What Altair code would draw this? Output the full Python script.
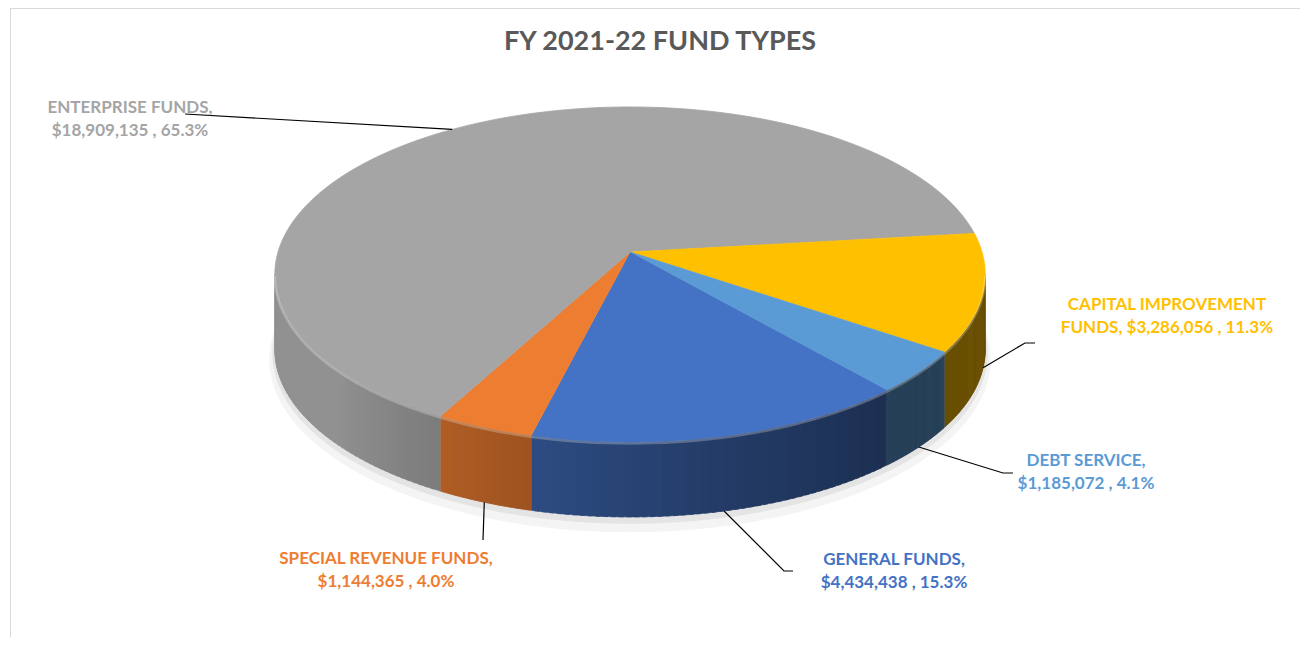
import math
import altair as alt
import pandas as pd

# ---------------- data ----------------
title_text = "FY 2021-22 FUND TYPES"
funds = ["GENERAL FUNDS", "SPECIAL REVENUE FUNDS", "ENTERPRISE FUNDS",
         "CAPITAL IMPROVEMENT FUNDS", "DEBT SERVICE"]
amounts = [4434438, 1144365, 18909135, 3286056, 1185072]
label_heads = ["GENERAL FUNDS,", "SPECIAL REVENUE FUNDS,", "ENTERPRISE FUNDS,",
               "CAPITAL IMPROVEMENT", "DEBT SERVICE,"]
label_prefix = ["", "", "", "FUNDS, ", ""]

# ---------------- style / layout ----------------
colors = ["#4472C4", "#ED7D31", "#A5A5A5", "#FFC000", "#5B9BD5"]
label_cx = [894, 386, 130, 1167, 1086]
label_cy = [571, 570, 119, 316, 472]
elbow_x = [784, 483, 185, 1025, 1003]
elbow_y = [571, 540, 114, 343, 473]
tail_x = [793, 483, 185, 1035, 1013]
tail_y = [571, 540, 114, 343, 473]

W, H = 1292, 629
START = math.radians(139)
CX, AY = 630, 252          # apex of the pie on screen
A, B, K = 352, 164.5, 0.134  # rim radii and perspective factor
DEPTH = 75
T1 = math.acos(-K)
T2 = 2 * math.pi - T1
N = 100
M = 50
FONT = "Lato"

df = pd.DataFrame({
    "fund": funds, "amount": amounts, "order": list(range(len(funds))),
    "head": label_heads, "prefix": label_prefix, "col": colors,
    "r": [int(c[1:3], 16) for c in colors],
    "g": [int(c[3:5], 16) for c in colors],
    "b": [int(c[5:7], 16) for c in colors],
    "lx": label_cx, "ly": label_cy,
    "ex": elbow_x, "ey": elbow_y, "tx": tail_x, "ty": tail_y,
})

xs = alt.Scale(domain=[8, 8 + W], nice=False, zero=False)
ys = alt.Scale(domain=[8, 8 + H], nice=False, zero=False, reverse=True)


def X(f):
    return alt.X(f"{f}:Q", scale=xs, axis=None)


def Y(f):
    return alt.Y(f"{f}:Q", scale=ys, axis=None)


def px(t, grow=0):
    return f"{CX} + {A + grow}*sin({t})/(1 + {K}*cos({t}))"


def py(t, grow=0, drop="0"):
    return f"{AY} - {B + grow}*cos({t})/(1 + {K}*cos({t})) + {drop}"


base = alt.Chart(df).transform_joinaggregate(
    total="sum(amount)"
).transform_window(
    cum="sum(amount)", sort=[alt.SortField("order", order="ascending")], frame=[None, 0]
).transform_calculate(
    a0=f"{START} + 2*PI*(datum.cum - datum.amount)/datum.total",
    a1=f"{START} + 2*PI*datum.cum/datum.total",
    pct="datum.amount/datum.total",
)

# shadow under the pie
seq_src = alt.Chart(alt.sequence(0, 121, as_="k"))


def shadow(off, grow, color):
    return seq_src.transform_calculate(
        t="2*PI*datum.k/120",
    ).transform_calculate(
        px=px("datum.t", grow),
        py=py("datum.t", grow, str(DEPTH + off)),
    ).mark_line(fill=color, stroke=color, strokeWidth=1).encode(
        x=X("px"), y=Y("py"), order=alt.Order("k:Q")
    )


shadow1 = shadow(9, 5, "#f4f4f4")
shadow2 = shadow(4, 2, "#e4e4e4")

# side walls (visible front part only)
walls = base.transform_calculate(
    b0="datum.a0 >= 2*PI ? datum.a0 - 2*PI : datum.a0",
    b1="datum.a0 >= 2*PI ? datum.a1 - 2*PI : datum.a1",
).transform_calculate(
    lo=f"max(datum.b0, {T1})",
    hi=f"min(datum.b1, {T2})",
).transform_filter("datum.hi > datum.lo").transform_calculate(
    i=f"sequence(0, {M})"
).transform_flatten(["i"]).transform_calculate(
    c="sequence(0, 4)"
).transform_flatten(["c"]).transform_calculate(
    ta=f"datum.lo + (datum.hi - datum.lo)*datum.i/{M}",
    tb=f"min(datum.hi, datum.lo + (datum.hi - datum.lo)*(datum.i + 1.6)/{M})",
).transform_calculate(
    t="(datum.c == 0 || datum.c == 3) ? datum.ta : datum.tb",
    tm="(datum.ta + datum.tb)/2",
    bot="datum.c >= 2 ? 1 : 0",
    qid="datum.fund + '_' + datum.i",
).transform_calculate(
    px=px("datum.t"),
    py=py("datum.t", 0, f"datum.bot*{DEPTH}"),
    f="0.41 + 0.47*pow(clamp((datum.tm*180/PI - 135)/95, 0, 1), 1.3)",
).transform_calculate(
    shade="'rgb(' + round(datum.r*datum.f) + ',' + round(datum.g*datum.f) + ',' + round(datum.b*datum.f) + ')'"
).mark_line(strokeWidth=0.6).encode(
    x=X("px"), y=Y("py"), order=alt.Order("c:Q"), detail="qid:N",
    fill=alt.Fill("shade:N", scale=None), stroke=alt.Stroke("shade:N", scale=None),
)

# top faces
tops = base.transform_calculate(
    k=f"sequence(-1, {N + 1})"
).transform_flatten(["k"]).transform_calculate(
    t=f"datum.a0 + (datum.a1 - datum.a0)*datum.k/{N}",
).transform_calculate(
    px=f"datum.k < 0 ? {CX} : " + px("datum.t"),
    py=f"datum.k < 0 ? {AY} : " + py("datum.t"),
).mark_line(strokeWidth=0.8).encode(
    x=X("px"), y=Y("py"), order=alt.Order("k:Q"), detail="fund:N",
    fill=alt.Fill("col:N", scale=None), stroke=alt.Stroke("col:N", scale=None),
)

# soft highlight on the front rim
rim = seq_src.transform_filter("datum.k <= 100").transform_calculate(
    t=f"{T1} + ({T2} - {T1})*datum.k/100",
).transform_calculate(
    px=px("datum.t"),
    py=py("datum.t", 0, "1.5"),
).mark_line(stroke="white", strokeOpacity=0.25, strokeWidth=2.5).encode(
    x=X("px"), y=Y("py"), order=alt.Order("k:Q")
)

# leader lines
leaders = base.transform_calculate(
    mid="(datum.a0 + datum.a1)/2",
).transform_calculate(
    rx0=px("datum.mid"),
    ry0=py("datum.mid", 0, f"(cos(datum.mid) < 0 ? {DEPTH} : 0)"),
    k="sequence(0, 3)",
).transform_flatten(["k"]).transform_calculate(
    qx="datum.k == 0 ? datum.rx0 : (datum.k == 1 ? datum.ex : datum.tx)",
    qy="datum.k == 0 ? datum.ry0 : (datum.k == 1 ? datum.ey : datum.ty)",
).mark_line(stroke="black", strokeWidth=1.2).encode(
    x=X("qx"), y=Y("qy"), order=alt.Order("k:Q"), detail="fund:N"
)

label_line1 = base.mark_text(
    font=FONT, fontSize=17, fontWeight="bold", dy=-11.5, align="center", baseline="middle"
).encode(
    x=X("lx"), y=Y("ly"), text="head:N", color=alt.Color("col:N", scale=None)
)

label_line2 = base.transform_calculate(
    line2="datum.prefix + format(datum.amount, '$,') + ' , ' + format(datum.pct, '.1%')"
).mark_text(
    font=FONT, fontSize=17, fontWeight="bold", dy=11.5, align="center", baseline="middle"
).encode(
    x=X("lx"), y=Y("ly"), text="line2:N", color=alt.Color("col:N", scale=None)
)

title = alt.Chart(pd.DataFrame({"t": [title_text]})).mark_text(
    font=FONT, fontSize=27, fontWeight="bold", color="#595959", align="center", baseline="middle"
).encode(x=alt.value(652), y=alt.value(34), text="t:N")

border_top = alt.Chart(pd.DataFrame({"t": [0]})).mark_rule(color="#d9d9d9", strokeWidth=1).encode(
    x=alt.value(2), x2=alt.value(W), y=alt.value(0.5)
)
border_left = alt.Chart(pd.DataFrame({"t": [0]})).mark_rule(color="#d9d9d9", strokeWidth=1).encode(
    x=alt.value(2.5), y=alt.value(0), y2=alt.value(H)
)

chart = alt.layer(
    border_top, border_left, shadow1, shadow2, walls, tops, rim, leaders,
    label_line1, label_line2, title
).properties(
    width=W, height=H, padding=0, autosize=alt.AutoSizeParams(type="none"),
    background="white",
).configure_view(stroke=None)

chart.save("out.html", embed_options={"renderer": "svg", "actions": False})
